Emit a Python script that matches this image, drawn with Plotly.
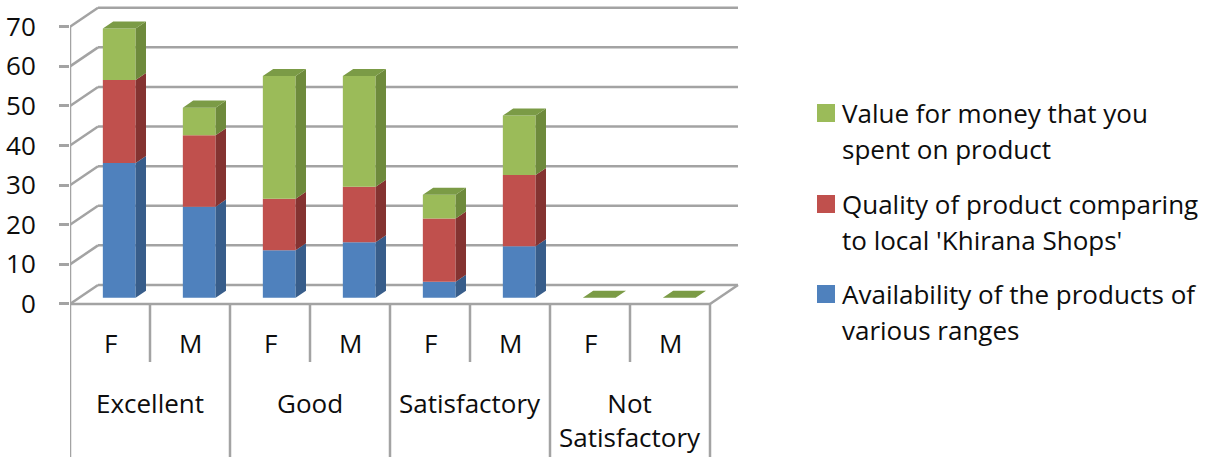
import plotly.graph_objects as go

# ---- data -------------------------------------------------------------
group_labels = ["Excellent", "Good", "Satisfactory", "Not<br>Satisfactory"]
gender_labels = ["F", "M"]
availability = [34, 23, 12, 14, 4, 13, 0, 0]
quality = [21, 18, 13, 14, 16, 18, 0, 0]
value_for_money = [13, 7, 31, 28, 6, 15, 0, 0]
series_names = [
    "Availability of the products of<br>various ranges",
    "Quality of product comparing<br>to local 'Khirana Shops'",
    "Value for money that you<br>spent on product",
]
y_ticks = [0, 10, 20, 30, 40, 50, 60, 70]

# ---- style ------------------------------------------------------------
FONT = "Open Sans"
FS = 26
TEXT = "#0d0d0d"
GRID = "#a3a3a3"
front_colors = ["#4f81bd", "#c0504d", "#9bbb59"]
side_colors = ["#385d8a", "#843331", "#6e8a3c"]
top_color = "#7b9b46"

# pseudo-3D geometry (category units / value units)
DX, DY = 0.35, 4.8          # depth of the floor
D0, D1 = 0.33, 0.70         # depth slice occupied by the columns
BAR_W = 0.41
SX, SY = (D1 - D0) * DX, (D1 - D0) * DY

n_cat = len(group_labels) * len(gender_labels)
X_LEFT, X_RIGHT = -0.5, n_cat - 0.5
Y_MIN, Y_MAX = -38.64, 75.5
SHORT_DIV = -14.65

W, H = 1218, 457
ML, MR, MT, MB = 70, 473, 5, 0
PW, PH = W - ML - MR, H - MT - MB


def px(x):
    return (x - ML) / PW


def py(y):
    return (H - MB - y) / PH


series = [availability, quality, value_for_money]
xs = [i + D0 * DX for i in range(n_cat)]
floor = D0 * DY

fig = go.Figure()

# front faces of the stacked columns
bases = [[floor] * n_cat]
for s in range(1, len(series)):
    bases.append([b + v for b, v in zip(bases[-1], series[s - 1])])

for s, vals in enumerate(series):
    fig.add_trace(go.Bar(
        x=xs, y=vals, base=bases[s], width=BAR_W,
        marker=dict(color=front_colors[s], line=dict(width=0)),
        name=series_names[s].replace("<br>", " "), showlegend=False,
        hoverinfo="skip",
    ))

# side faces
for s, vals in enumerate(series):
    px_, py_ = [], []
    for i, v in enumerate(vals):
        if v <= 0:
            continue
        xr = xs[i] + BAR_W / 2
        b, t = bases[s][i], bases[s][i] + v
        px_ += [xr, xr + SX, xr + SX, xr, xr, None]
        py_ += [b, b + SY, t + SY, t, b, None]
    fig.add_trace(go.Scatter(
        x=px_, y=py_, mode="lines", fill="toself", fillcolor=side_colors[s],
        line=dict(width=0), showlegend=False, hoverinfo="skip",
    ))

# top faces
tx, ty = [], []
for i in range(n_cat):
    t = bases[-1][i] + series[-1][i]
    xl, xr = xs[i] - BAR_W / 2, xs[i] + BAR_W / 2
    tx += [xl, xr, xr + SX, xl + SX, xl, None]
    ty += [t, t, t + SY, t + SY, t, None]
fig.add_trace(go.Scatter(
    x=tx, y=ty, mode="lines", fill="toself", fillcolor=top_color,
    line=dict(width=0), showlegend=False, hoverinfo="skip",
))

shapes = []
gl = dict(color=GRID, width=2.5)
# back wall gridlines and left wall diagonals
for v in y_ticks:
    shapes.append(dict(type="line", xref="x", yref="y", layer="below",
                       x0=X_LEFT + DX, x1=X_RIGHT + DX, y0=v + DY, y1=v + DY, line=gl))
    shapes.append(dict(type="line", xref="x", yref="y", layer="below",
                       x0=X_LEFT, x1=X_LEFT + DX, y0=v, y1=v + DY, line=gl))
# floor front and right edges
shapes.append(dict(type="line", xref="x", yref="y", layer="below",
                   x0=X_LEFT, x1=X_RIGHT, y0=0, y1=0, line=gl))
shapes.append(dict(type="line", xref="x", yref="y", layer="below",
                   x0=X_RIGHT, x1=X_RIGHT + DX, y0=0, y1=DY, line=gl))
# value axis line, continuing down as the first category divider
shapes.append(dict(type="line", xref="x", yref="y", layer="below",
                   x0=X_LEFT, x1=X_LEFT, y0=y_ticks[-1], y1=Y_MIN, line=gl))
# category dividers
for k in range(1, n_cat + 1):
    x = X_LEFT + k
    y_end = Y_MIN if k % 2 == 0 else SHORT_DIV
    shapes.append(dict(type="line", xref="x", yref="y", layer="below",
                       x0=x, x1=x, y0=0, y1=y_end, line=gl))

annotations = []
# inner category labels
for i in range(n_cat):
    annotations.append(dict(x=i, y=py(343), xref="x", yref="paper",
                            yanchor="middle", text=gender_labels[i % 2],
                            showarrow=False,
                            font=dict(family=FONT, size=FS, color=TEXT)))
# outer category labels
for g, lab in enumerate(group_labels):
    annotations.append(dict(x=2 * g + 0.5, y=py(383), xref="x", yref="paper",
                            yanchor="top", text=lab, showarrow=False,
                            font=dict(family=FONT, size=FS, color=TEXT)))

# legend (top entry is the last series)
legend_rows = [113, 204, 294]
for r, s in enumerate(reversed(range(len(series)))):
    yc = legend_rows[r]
    shapes.append(dict(type="rect", xref="paper", yref="paper",
                       x0=px(817), x1=px(835), y0=py(yc - 9), y1=py(yc + 9),
                       fillcolor=front_colors[s], line=dict(width=0)))
    for j, line in enumerate(series_names[s].split("<br>")):
        annotations.append(dict(x=px(840), y=py(yc + 36 * j), xref="paper", yref="paper",
                                xanchor="left", yanchor="middle", text=line,
                                showarrow=False,
                                font=dict(family=FONT, size=FS, color=TEXT)))

fig.update_layout(
    width=W, height=H,
    margin=dict(l=ML, r=MR, t=MT, b=MB),
    paper_bgcolor="white", plot_bgcolor="white",
    barmode="overlay",
    showlegend=False,
    shapes=shapes, annotations=annotations,
    xaxis=dict(range=[X_LEFT, X_RIGHT + 0.4375], visible=False, fixedrange=True),
    yaxis=dict(range=[Y_MIN, Y_MAX], tickvals=y_ticks, ticks="outside", ticklen=10,
               tickwidth=2.5, tickcolor=GRID, showgrid=False, zeroline=False,
               showline=False, ticklabelstandoff=18,
               tickfont=dict(family=FONT, size=FS, color=TEXT), fixedrange=True),
)

fig.write_html("out.html")
